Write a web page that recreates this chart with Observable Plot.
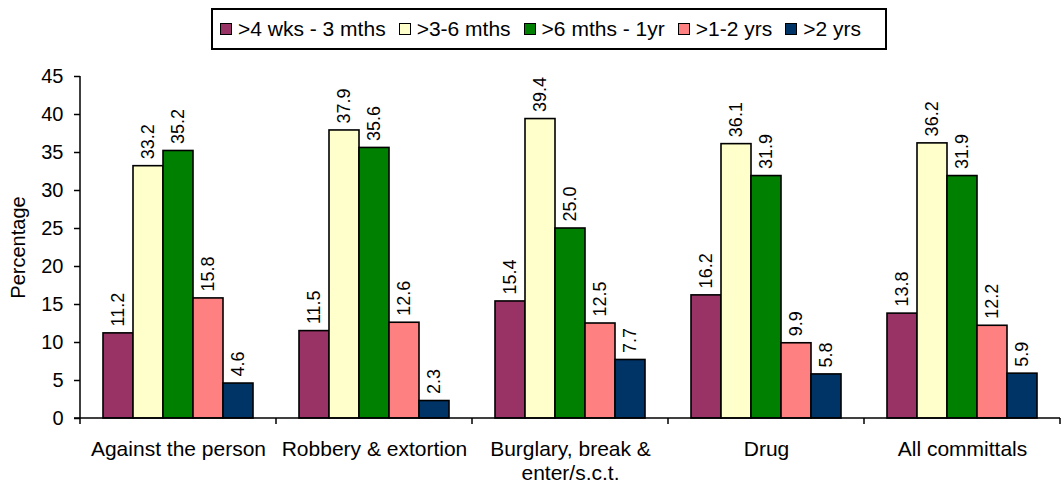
<!DOCTYPE html>
<html>
<head>
<meta charset="utf-8">
<script src="https://cdn.jsdelivr.net/npm/d3@7"></script>
<script src="https://cdn.jsdelivr.net/npm/@observablehq/plot@0.6"></script>
<style>
  body { margin: 0; background: #fff; font-family: "Liberation Sans", Arial, sans-serif; }
  #wrap { position: relative; width: 1061px; height: 485px; }
  #legend {
    position: absolute; left: 211px; top: 8px; width: 672px; height: 38px;
    border: 2px solid #000; background: #fff; display: flex; align-items: center;
    box-sizing: content-box; font-size: 21px; color: #000; white-space: nowrap;
  }
  #legend .item { display: flex; align-items: center; margin-left: 7px; margin-right: 6px; }
  #legend .sw { width: 10px; height: 10px; border: 1.5px solid #000; margin-right: 6px; }
</style>
</head>
<body>
<div id="wrap">
  <div id="chart"></div>
  <div id="legend"></div>
</div>
<script>
// Offence categories and time-served bands
const categories = ["Against the person", "Robbery & extortion", "Burglary, break & enter/s.c.t.", "Drug", "All committals"];
const categoryLabels = ["Against the person", "Robbery & extortion", "Burglary, break &\nenter/s.c.t.", "Drug", "All committals"];
const series = [">4 wks - 3 mths", ">3-6 mths", ">6 mths - 1yr", ">1-2 yrs", ">2 yrs"];
const colors = ["#993366", "#FFFFCC", "#008000", "#FF8080", "#003366"];

// Percentage per category, one array per band
const wks4ToMths3 = [11.2, 11.5, 15.4, 16.2, 13.8];
const mths3To6 = [33.2, 37.9, 39.4, 36.1, 36.2];
const mths6ToYr1 = [35.2, 35.6, 25.0, 31.9, 31.9];
const yrs1To2 = [15.8, 12.6, 12.5, 9.9, 12.2];
const yrsOver2 = [4.6, 2.3, 7.7, 5.8, 5.9];

const yTicks = [0, 5, 10, 15, 20, 25, 30, 35, 40, 45];

const seriesValues = [wks4ToMths3, mths3To6, mths6ToYr1, yrs1To2, yrsOver2];
const data = [];
categories.forEach((cat, i) => {
  series.forEach((s, j) => data.push({category: cat, band: s, value: seriesValues[j][i]}));
});

const chart = Plot.plot({
  width: 1061,
  height: 485,
  marginLeft: 80,
  marginRight: 1,
  marginTop: 76,
  marginBottom: 67,
  style: {fontFamily: "'Liberation Sans', Arial, sans-serif", fontSize: "18px", color: "#000", background: "transparent"},
  fx: {domain: categories, paddingInner: 0, paddingOuter: 0, label: null},
  x: {domain: series, paddingInner: 0, paddingOuter: 0.7, axis: null},
  y: {domain: [0, 45], axis: null},
  color: {domain: series, range: colors},
  marks: [
    Plot.axisFx({
      anchor: "bottom", tickSize: 0, tickPadding: 20, fontSize: 21, lineHeight: 1.15, label: null,
      tickFormat: d => categoryLabels[categories.indexOf(d)]
    }),
    Plot.axisY({
      ticks: yTicks, tickSize: 6, tickPadding: 11, fontSize: 20, strokeWidth: 1.5,
      label: "Percentage", labelAnchor: "center", labelArrow: "none", labelOffset: 70
    }),
    Plot.barY(data, {fx: "category", x: "band", y: "value", fill: "band", stroke: "#000", strokeWidth: 1.6}),
    Plot.text(data, {
      fx: "category", x: "band", y: "value", text: d => d.value.toFixed(1),
      rotate: -90, textAnchor: "start", dy: -7, fontSize: 18, fill: "#000"
    })
  ]
});

// Axis lines and category boundary ticks drawn from the plot's scales
const fx = chart.scale("fx");
const y = chart.scale("y");
const svg = d3.select(chart);
const g = svg.append("g").attr("stroke", "#000").attr("stroke-width", 1.5).attr("fill", "none");
const left = fx.apply(categories[0]);
const right = fx.apply(categories[categories.length - 1]) + fx.bandwidth;
const y0 = y.apply(0);
g.append("line").attr("x1", left).attr("x2", left).attr("y1", y0).attr("y2", y.apply(45));
g.append("line").attr("x1", left - 6).attr("x2", right).attr("y1", y0).attr("y2", y0);
categories.map(c => fx.apply(c)).concat([right]).forEach(x => {
  g.append("line").attr("x1", x).attr("x2", x).attr("y1", y0).attr("y2", y0 + 6);
});

document.getElementById("chart").appendChild(chart);

// Legend
const legend = d3.select("#legend");
series.forEach((s, j) => {
  const item = legend.append("div").attr("class", "item");
  item.append("div").attr("class", "sw").style("background", colors[j]);
  item.append("span").text(s);
});
</script>
</body>
</html>
